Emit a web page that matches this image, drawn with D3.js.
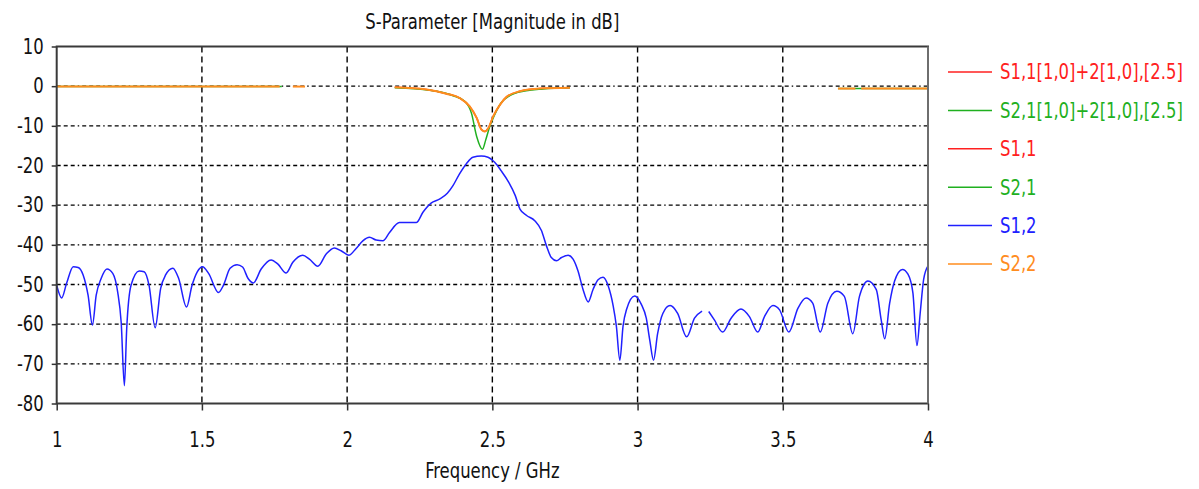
<!DOCTYPE html>
<html>
<head>
<meta charset="utf-8">
<script src="https://cdn.jsdelivr.net/npm/d3@7"></script>
<style>
  body { margin: 0; background: #fff; }
  text { font-family: "DejaVu Sans Condensed", "DejaVu Sans", sans-serif; }
</style>
</head>
<body>
<div id="chart"></div>
<script>
/* CONSTANTS AND GLOBALS */
const width = 1199,
  height = 489,
  margin = { top: 46.5, bottom: 85.5, left: 56.7, right: 271 },
  fontSize = 21,
  squeeze = 0.87; // the original font is narrower than DejaVu

/* DATA */
// tick labels
const xTicks = [1, 1.5, 2, 2.5, 3, 3.5, 4];
const yTicks = [10, 0, -10, -20, -30, -40, -50, -60, -70, -80];
const xGrid = [1.5, 2, 2.5, 3, 3.5];
const yGrid = [0, -10, -20, -30, -40, -50, -60, -70];

// legend
const legendLabels = ["S1,1[1,0]+2[1,0],[2.5]", "S2,1[1,0]+2[1,0],[2.5]", "S1,1", "S2,1", "S1,2", "S2,2"];
const legendColors = ["#ff2020", "#1fb01f", "#ff2020", "#1fb01f", "#2020ff", "#ff8c1e"];

// S1,2 (blue) - frequency in GHz, magnitude in dB (null = gap)
const s12Freq = [1.000, 1.017, 1.034, 1.057, 1.074, 1.091, 1.108, 1.123, 1.136, 1.153,
  1.173, 1.193, 1.210, 1.222, 1.233, 1.241, 1.256, 1.284, 1.301, 1.318,
  1.339, 1.358, 1.375, 1.400, 1.420, 1.447, 1.466, 1.484, 1.502, 1.523,
  1.557, 1.574, 1.597, 1.621, 1.640, 1.659, 1.677, 1.704, 1.738, 1.761,
  1.790, 1.813, 1.847, 1.870, 1.899, 1.928, 1.956, 1.979, 2.006, 2.031,
  2.054, 2.077, 2.100, 2.123, 2.146, 2.180, 2.238, 2.261, 2.289, 2.318,
  2.345, 2.365, 2.387, 2.410, 2.433, 2.462, 2.485, 2.508, 2.530, 2.556,
  2.579, 2.595, 2.618, 2.646, 2.669, 2.686, 2.703, 2.721, 2.738, 2.761,
  2.778, 2.795, 2.812, 2.830, 2.847, 2.864, 2.881, 2.899, 2.916, 2.927,
  2.939, 2.950, 2.962, 2.990, 3.013, 3.030, 3.042, 3.055, 3.069, 3.087,
  3.112, 3.138, 3.169, 3.196, 3.222, 3.233, 3.245, 3.265, 3.293, 3.322,
  3.356, 3.385, 3.414, 3.437, 3.466, 3.489, 3.521, 3.552, 3.580, 3.603,
  3.629, 3.655, 3.686, 3.712, 3.741, 3.764, 3.793, 3.822, 3.839, 3.851,
  3.868, 3.885, 3.912, 3.931, 3.948, 3.962, 3.973, 3.985, 4.000];
const s12Mag = [-50.2, -53.4, -49.7, -45.5, -45.7, -47.6, -52.7, -60.2, -52.7, -48.5,
  -46.1, -47.2, -51.9, -59.5, -75.5, -61.2, -50.2, -46.6, -46.8, -50.2,
  -60.9, -51.0, -47.6, -45.9, -48.5, -55.7, -50.2, -46.8, -45.5, -47.2,
  -52.0, -50.2, -45.9, -45.0, -45.6, -48.5, -49.6, -46.1, -43.8, -44.8,
  -47.1, -44.4, -42.6, -43.6, -45.4, -42.3, -40.8, -41.5, -42.6, -40.9,
  -39.0, -38.1, -38.8, -39.0, -36.9, -34.4, -34.4, -31.8, -29.5, -28.5,
  -27.0, -25.0, -22.1, -19.6, -17.9, -17.6, -17.9, -19.2, -21.3, -24.2,
  -27.6, -31.0, -32.6, -33.9, -36.4, -40.2, -43.2, -44.0, -43.2, -42.6,
  -43.6, -46.6, -51.2, -54.4, -51.2, -48.8, -48.2, -50.4, -55.4, -60.5,
  -69.1, -60.5, -56.3, -52.9, -55.0, -58.5, -64.0, -69.1, -62.4, -57.3,
  -55.3, -57.3, -63.2, -58.5, -56.7, null, -56.8, -59.0, -62.0, -58.5,
  -56.2, -58.1, -62.0, -58.1, -55.3, -56.4, -62.0, -56.0, -53.4, -54.7,
  -62.0, -54.7, -51.7, -53.0, -62.4, -53.0, -49.1, -51.3, -59.0, -63.7,
  -54.7, -49.1, -46.2, -47.4, -52.1, -65.4, -57.3, -48.7, -45.3];

// resonance dip around 2.47 GHz
const s22DipFreq = [2.164, 2.273, 2.342, 2.388, 2.422, 2.446, 2.463, 2.474, 2.486, 2.503, 2.526, 2.549, 2.595, 2.664, 2.767];
const s22DipMag = [-0.3, -0.85, -1.9, -3.0, -5.1, -8.0, -11.0, -11.4, -10.6, -7.6, -4.7, -2.7, -1.3, -0.6, -0.4];
const s21DipFreq = [2.164, 2.285, 2.365, 2.405, 2.428, 2.446, 2.466, 2.477, 2.491, 2.508, 2.530, 2.560, 2.606, 2.675, 2.767];
const s21DipMag = [-0.4, -1.0, -2.4, -3.8, -6.8, -12.7, -15.9, -13.6, -10.2, -7.2, -4.2, -2.4, -1.3, -0.7, -0.4];

// flat pieces near 0 dB: [start GHz, end GHz, level dB]
const s22Flat = [[1.0, 1.768, -0.1], [1.813, 1.855, -0.1], [3.69, 3.75, -0.6], [3.77, 4.0, -0.6]];
const s21Flat = [[1.0, 1.775, -0.1], [3.69, 4.0, -0.6]];

/* SCALES */
const xScale = d3.scaleLinear().domain([1, 4]).range([margin.left, width - margin.right]);
const yScale = d3.scaleLinear().domain([-80, 10]).range([height - margin.bottom, margin.top]);

const svg = d3.select("#chart")
  .append("svg")
  .attr("width", width)
  .attr("height", height)
  .style("display", "block");

// squeeze text horizontally around its anchor, the original font is narrower
function condense(sel) {
  sel.each(function () {
    const x = +(this.getAttribute("x") || 0);
    d3.select(this)
      .attr("transform", `translate(${x},0) scale(${squeeze},1) translate(${-x},0)`);
  });
}

// + GRID
svg.selectAll("line.hgrid")
  .data(yGrid)
  .join("line")
  .attr("class", "hgrid")
  .attr("x1", xScale(1)).attr("x2", xScale(4))
  .attr("y1", d => yScale(d)).attr("y2", d => yScale(d))
  .attr("stroke", "#000")
  .attr("stroke-width", 1.4)
  .attr("stroke-dasharray", "4,3,4,3,4,3,1.5,3");

svg.selectAll("line.vgrid")
  .data(xGrid)
  .join("line")
  .attr("class", "vgrid")
  .attr("x1", d => xScale(d)).attr("x2", d => xScale(d))
  .attr("y1", yScale(10)).attr("y2", yScale(-80))
  .attr("stroke", "#000")
  .attr("stroke-width", 1.4)
  .attr("stroke-dasharray", "6,4");

// + AXES
const yAxis = d3.axisLeft(yScale)
  .tickValues(yTicks)
  .tickSize(5)
  .tickPadding(8)
  .tickFormat(d => String(d));

const xAxis = d3.axisBottom(xScale)
  .tickValues(xTicks)
  .tickSize(7)
  .tickPadding(22)
  .tickFormat(d => String(d));

const yAxisGroup = svg.append("g")
  .attr("transform", `translate(${xScale(1)},0)`)
  .call(yAxis);

const xAxisGroup = svg.append("g")
  .attr("transform", `translate(0,${yScale(-80)})`)
  .call(xAxis);

[yAxisGroup, xAxisGroup].forEach(g => {
  g.select(".domain").remove();
  g.selectAll(".tick line").attr("stroke", "#333").attr("stroke-width", 1.5);
  g.selectAll(".tick text")
    .attr("fill", "#111")
    .attr("font-size", fontSize)
    .style("font-family", "'DejaVu Sans Condensed', sans-serif")
    .call(condense);
});

// + LINES
const line = d3.line()
  .defined(d => d[1] !== null)
  .x(d => xScale(d[0]))
  .y(d => yScale(d[1]))
  .curve(d3.curveMonotoneX);

const s12Data = s12Freq.map((f, i) => [f, s12Mag[i]]);
const s22Dip = s22DipFreq.map((f, i) => [f, s22DipMag[i]]);
const s21Dip = s21DipFreq.map((f, i) => [f, s21DipMag[i]]);
const flatPath = seg => [[seg[0], seg[2]], [seg[1], seg[2]]];

// red S1,1 sits under the orange S2,2
svg.append("path")
  .datum(s22Dip)
  .attr("d", line)
  .attr("fill", "none")
  .attr("stroke", "#ff2020")
  .attr("stroke-width", 1.5);

svg.selectAll("path.s21")
  .data([...s21Flat.map(flatPath), s21Dip])
  .join("path")
  .attr("class", "s21")
  .attr("d", line)
  .attr("fill", "none")
  .attr("stroke", "#1fb01f")
  .attr("stroke-width", 1.5);

svg.append("path")
  .datum(s12Data)
  .attr("d", line)
  .attr("fill", "none")
  .attr("stroke", "#2020ff")
  .attr("stroke-width", 1.5);

svg.selectAll("path.s22")
  .data([...s22Flat.map(flatPath), s22Dip])
  .join("path")
  .attr("class", "s22")
  .attr("d", line)
  .attr("fill", "none")
  .attr("stroke", "#ff8c1e")
  .attr("stroke-width", 2);

// + FRAME
svg.append("rect")
  .attr("x", xScale(1)).attr("y", yScale(10))
  .attr("width", xScale(4) - xScale(1))
  .attr("height", yScale(-80) - yScale(10))
  .attr("fill", "none")
  .attr("stroke", "#3a3a3a")
  .attr("stroke-width", 2);

svg.append("line")
  .attr("x1", xScale(4)).attr("x2", xScale(4))
  .attr("y1", yScale(10)).attr("y2", yScale(-80))
  .attr("stroke", "#6e6e6e")
  .attr("stroke-width", 2);

// + TITLES
svg.append("text")
  .attr("x", (xScale(1) + xScale(4)) / 2)
  .attr("y", 29)
  .attr("text-anchor", "middle")
  .attr("font-size", fontSize)
  .attr("fill", "#111")
  .text("S-Parameter [Magnitude in dB]")
  .call(condense);

svg.append("text")
  .attr("x", (xScale(1) + xScale(4)) / 2)
  .attr("y", 478)
  .attr("text-anchor", "middle")
  .attr("font-size", fontSize)
  .attr("fill", "#111")
  .text("Frequency / GHz")
  .call(condense);

// + LEGEND
const legend = svg.selectAll("g.legend")
  .data(legendLabels)
  .join("g")
  .attr("class", "legend")
  .attr("transform", (d, i) => `translate(948,${72 + i * 38.4})`);

legend.append("line")
  .attr("x1", 0).attr("x2", 44)
  .attr("stroke", (d, i) => legendColors[i])
  .attr("stroke-width", 1.5);

legend.append("text")
  .attr("x", 52)
  .attr("dy", "0.35em")
  .attr("font-size", fontSize)
  .attr("fill", (d, i) => legendColors[i])
  .text(d => d)
  .call(condense);
</script>
</body>
</html>
